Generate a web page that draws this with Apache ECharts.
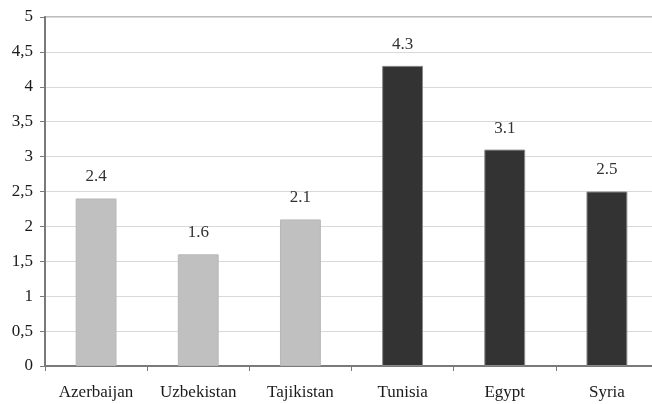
<!DOCTYPE html>
<html>
<head>
<meta charset="utf-8">
<script src="https://cdn.jsdelivr.net/npm/echarts@6/dist/echarts.min.js"></script>
<style>
  html, body { margin: 0; padding: 0; background: #ffffff; }
  #chart { width: 652px; height: 404px; }
</style>
</head>
<body>
<div id="chart"></div>
<script>
// Countries shown along the horizontal axis
const countries = ['Azerbaijan', 'Uzbekistan', 'Tajikistan', 'Tunisia', 'Egypt', 'Syria'];
// Value per country
const values = [2.4, 1.6, 2.1, 4.3, 3.1, 2.5];
// Group of each country: Central Asia / Caucasus (light) vs. MENA (dark)
const groups = ['light', 'light', 'light', 'dark', 'dark', 'dark'];

const fills = { light: '#c0c0c0', dark: '#333333' };
const edges = { light: '#b8b8b8', dark: '#8a8a8a' };

const serif = '"Liberation Serif", "DejaVu Serif", serif';

const chart = echarts.init(document.getElementById('chart'));
chart.setOption({
  animation: false,
  backgroundColor: '#ffffff',
  grid: {
    left: 45, width: 613, top: 17, bottom: 38,
    outerBoundsMode: 'none',
    containLabel: false,
    show: true, borderColor: '#bdbdbd', borderWidth: 2, backgroundColor: 'transparent'
  },
  xAxis: {
    type: 'category',
    data: countries,
    axisLine: { lineStyle: { color: '#7a7a7a', width: 2 } },
    axisTick: { show: true, alignWithLabel: false, length: 5, lineStyle: { color: '#7a7a7a' } },
    axisLabel: { color: '#1a1a1a', fontFamily: serif, fontSize: 17, margin: 18 }
  },
  yAxis: {
    type: 'value',
    min: 0, max: 5, interval: 0.5,
    axisLine: { show: true, lineStyle: { color: '#7a7a7a', width: 2 } },
    axisTick: { show: true, length: 5, lineStyle: { color: '#7a7a7a' } },
    axisLabel: {
      color: '#1a1a1a', fontFamily: serif, fontSize: 17, margin: 12,
      formatter: v => String(v).replace('.', ',')
    },
    splitLine: { lineStyle: { color: '#d9d9d9', width: 1 } }
  },
  series: [{
    type: 'bar',
    barWidth: '40%',
    data: values.map((v, i) => ({
      value: v,
      itemStyle: { color: fills[groups[i]], borderColor: edges[groups[i]], borderWidth: 1 }
    })),
    label: {
      show: true, position: 'top', distance: 13,
      color: '#333333', fontFamily: serif, fontSize: 17,
      formatter: p => p.value.toFixed(1)
    }
  }]
});
</script>
</body>
</html>
